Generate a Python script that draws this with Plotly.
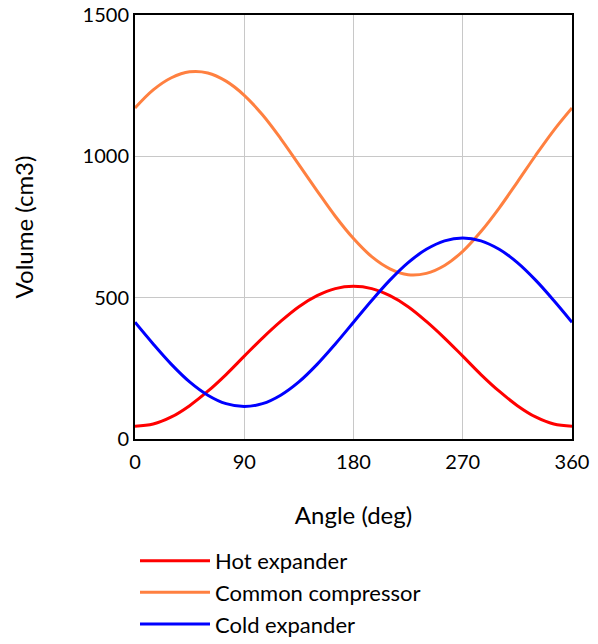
import plotly.graph_objects as go

angle = [0, 15, 30, 45, 60, 75, 90, 105, 120, 135, 150, 165, 180,
         195, 210, 225, 240, 255, 270, 285, 300, 315, 330, 345, 360]
hot_expander = [45, 53, 78, 118, 169, 228, 293, 357, 416, 468, 507, 532, 540,
                532, 507, 468, 416, 357, 293, 228, 169, 118, 78, 53, 45]
common_compressor = [1171, 1235, 1278, 1299, 1295, 1266, 1216, 1147, 1063, 971, 878, 788, 709,
                     645, 602, 581, 586, 614, 664, 734, 817, 909, 1003, 1092, 1171]
cold_expander = [413, 336, 264, 202, 155, 125, 115, 125, 155, 202, 264, 336, 413,
                 490, 562, 624, 671, 701, 711, 701, 671, 624, 562, 490, 413]

x_ticks = [0, 90, 180, 270, 360]
y_ticks = [0, 500, 1000, 1500]

FONT = "Lato"

fig = go.Figure()
for name, ys, col in [("Hot expander", hot_expander, "#FF0000"),
                      ("Common compressor", common_compressor, "#FF8040"),
                      ("Cold expander", cold_expander, "#0000FF")]:
    fig.add_trace(go.Scatter(x=angle, y=ys, mode="lines", name=name,
                             line=dict(color=col, width=3, shape="spline", smoothing=1)))

fig.update_layout(
    width=598, height=644,
    margin=dict(l=135, r=26, t=15, b=205, autoexpand=False),
    paper_bgcolor="white", plot_bgcolor="white",
    font=dict(family=FONT, size=20, color="black"),
    showlegend=True,
    legend=dict(x=0.0, y=-0.238, xanchor="left", yanchor="top",
                itemwidth=70, tracegroupgap=0,
                font=dict(family=FONT, size=22, color="black"),
                bgcolor="rgba(0,0,0,0)"),
)
fig.update_xaxes(range=[0, 360], tickvals=x_ticks, ticktext=[str(v) for v in x_ticks],
                 showgrid=True, gridcolor="#C8C8C8", gridwidth=1,
                 showline=True, linecolor="black", linewidth=2, mirror=True,
                 zeroline=False, ticks="", ticklabelstandoff=4, automargin=False,
                 title=dict(text="Angle (deg)", standoff=35))
fig.update_yaxes(range=[0, 1500], tickvals=y_ticks, ticktext=[str(v) for v in y_ticks],
                 showgrid=True, gridcolor="#C8C8C8", gridwidth=1,
                 showline=True, linecolor="black", linewidth=2, mirror=True,
                 zeroline=False, ticks="", automargin=False,
                 title=dict(text="Volume (cm3)", standoff=42))

fig.write_html("out.html")
